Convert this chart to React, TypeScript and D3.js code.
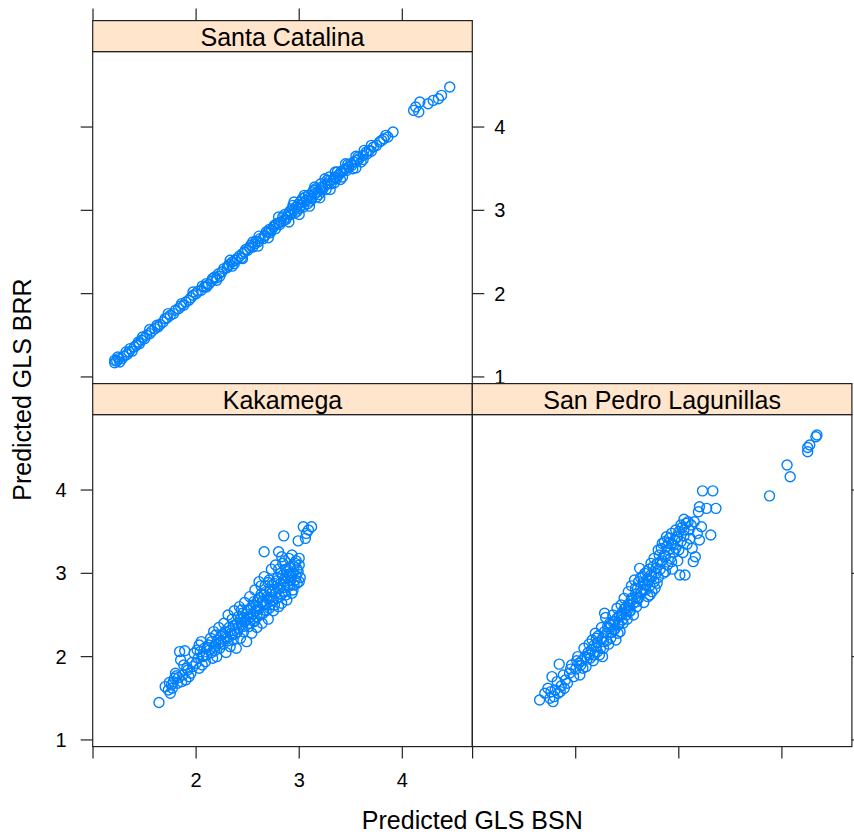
import React from 'react';
import * as d3 from 'd3';

// predicted GLS BSN (x) vs predicted GLS BRR (y)
const santaCatalina: [number, number][] = [
  [1.21, 1.17], [1.23, 1.19], [1.26, 1.18], [1.28, 1.22], [1.30, 1.25], [1.32, 1.30], [1.33, 1.27], [1.35, 1.30],
  [1.38, 1.31], [1.40, 1.36], [1.42, 1.38], [1.44, 1.42], [1.45, 1.40], [1.47, 1.44], [1.50, 1.46], [1.52, 1.50],
  [1.55, 1.52], [1.55, 1.57], [1.57, 1.55], [1.60, 1.58], [1.62, 1.62], [1.65, 1.63], [1.68, 1.66], [1.70, 1.70],
  [1.72, 1.71], [1.75, 1.74], [1.78, 1.76], [1.80, 1.80], [1.83, 1.82], [1.85, 1.85], [1.88, 1.86], [1.90, 1.90],
  [1.93, 1.92], [1.95, 1.95], [1.97, 1.98], [1.97, 2.02], [2.00, 2.00], [2.02, 2.03], [2.05, 2.04], [2.08, 2.08],
  [2.10, 2.12], [2.10, 2.08], [2.12, 2.11], [2.15, 2.15], [2.18, 2.20], [2.20, 2.19], [2.22, 2.24], [2.23, 2.21],
  [2.25, 2.26], [2.27, 2.30], [2.30, 2.31], [2.32, 2.35], [2.35, 2.38], [2.35, 2.33], [2.37, 2.36], [2.40, 2.42],
  [2.42, 2.45], [2.44, 2.43], [2.45, 2.48], [2.47, 2.50], [2.50, 2.52], [2.52, 2.55], [2.55, 2.56], [2.57, 2.60],
  [2.58, 2.63], [2.60, 2.62], [2.62, 2.66], [2.65, 2.66], [2.67, 2.70], [2.68, 2.74], [2.70, 2.74], [2.72, 2.73],
  [2.73, 2.76], [2.75, 2.80], [2.77, 2.78], [2.78, 2.84], [2.80, 2.85], [2.82, 2.86], [2.85, 2.88], [2.86, 2.95],
  [2.88, 2.92], [2.90, 2.96], [2.92, 2.95], [2.93, 3.02], [2.95, 3.00], [2.97, 3.04], [2.98, 2.99], [3.00, 3.02],
  [3.02, 3.06], [3.03, 3.14], [3.05, 3.10], [3.07, 3.12], [3.08, 3.08], [3.10, 3.15], [3.12, 3.14], [3.13, 3.22],
  [3.15, 3.20], [3.17, 3.16], [3.18, 3.22], [3.20, 3.24], [3.21, 3.32], [3.22, 3.28], [3.25, 3.30], [3.26, 3.25],
  [3.28, 3.32], [3.29, 3.40], [3.30, 3.36], [3.33, 3.37], [3.34, 3.33], [3.35, 3.40], [3.37, 3.46], [3.38, 3.42],
  [3.40, 3.45], [3.42, 3.40], [3.43, 3.48], [3.45, 3.50], [3.47, 3.55], [3.48, 3.52], [3.50, 3.56], [3.52, 3.50],
  [3.53, 3.58], [3.55, 3.65], [3.56, 3.60], [3.58, 3.62], [3.60, 3.58], [3.62, 3.66], [3.63, 3.72], [3.65, 3.70],
  [3.68, 3.72], [3.72, 3.76], [3.75, 3.78], [3.78, 3.82], [3.82, 3.86], [3.86, 3.88], [3.91, 3.94], [4.11, 4.20],
  [4.13, 4.24], [4.16, 4.18], [4.17, 4.30], [4.25, 4.28], [4.30, 4.32], [4.35, 4.34], [4.38, 4.38], [4.46, 4.48],
  [2.31, 2.33], [2.38, 2.40], [2.48, 2.53], [2.53, 2.58], [2.61, 2.69], [2.66, 2.69], [2.71, 2.77], [2.76, 2.82],
  [2.81, 2.83], [2.84, 2.92], [2.87, 2.89], [2.91, 2.99], [2.94, 3.06], [2.96, 2.97], [2.99, 3.07], [3.01, 3.10],
  [3.04, 3.04], [3.06, 3.16], [3.09, 3.18], [3.11, 3.11], [3.14, 3.24], [3.16, 3.26], [3.19, 3.19], [3.23, 3.26],
  [3.27, 3.36], [3.31, 3.32], [3.36, 3.38], [3.41, 3.47], [3.46, 3.48], [3.51, 3.54], [3.57, 3.64], [3.66, 3.68],
  [3.70, 3.78], [3.80, 3.84], [3.84, 3.90], [1.25, 1.22], [1.36, 1.34], [1.48, 1.48], [1.63, 1.60], [1.73, 1.76],
  [1.86, 1.88], [2.06, 2.09], [2.16, 2.18], [1.24, 1.24], [1.21, 1.20],
  [2.90, 2.86], [2.95, 3.10], [3.00, 2.95], [3.05, 3.18], [3.10, 3.05], [3.15, 3.28], [3.20, 3.15], [3.25, 3.38],
  [3.30, 3.25], [3.35, 3.46], [3.40, 3.37], [3.45, 3.56], [3.55, 3.51], [2.80, 2.92], [2.70, 2.67], [2.60, 2.57],
  [2.55, 2.62], [2.45, 2.42], [2.33, 2.40], [2.20, 2.16], [3.62, 3.61], [3.70, 3.71],
];

const kakamega: [number, number][] = [
  [1.64, 1.45], [1.70, 1.64], [1.75, 1.56], [1.73, 1.60], [1.78, 1.70], [1.76, 1.66], [1.80, 1.80], [1.79, 1.74],
  [1.82, 1.68], [1.84, 2.06], [1.89, 2.07], [1.85, 1.96], [1.87, 1.78], [1.90, 1.72], [1.92, 1.84], [1.95, 1.80],
  [1.98, 2.04], [2.03, 2.14], [1.88, 1.90], [1.93, 1.76], [1.97, 1.88], [2.00, 1.92], [1.83, 1.75], [1.86, 1.70],
  [2.02, 1.98], [2.04, 2.06], [2.06, 1.90], [2.08, 2.10], [2.05, 2.18], [2.10, 2.02], [2.09, 1.94], [2.12, 2.14],
  [2.03, 1.86], [2.14, 2.22], [2.15, 2.05], [2.17, 2.30], [2.18, 2.12], [2.20, 2.00], [2.21, 2.20], [2.22, 2.35],
  [2.23, 2.10], [2.24, 2.25], [2.16, 1.98], [2.19, 2.26], [2.26, 2.15], [2.27, 2.40], [2.28, 2.30], [2.29, 2.05],
  [2.30, 2.22], [2.31, 2.50], [2.32, 2.35], [2.33, 2.12], [2.34, 2.28], [2.35, 2.45], [2.36, 2.20], [2.37, 2.55],
  [2.38, 2.38], [2.39, 2.10], [2.40, 2.30], [2.41, 2.48], [2.42, 2.60], [2.43, 2.22], [2.44, 2.38], [2.45, 2.52],
  [2.46, 2.30], [2.47, 2.65], [2.48, 2.44], [2.49, 2.18], [2.50, 2.56], [2.51, 2.36], [2.52, 2.72], [2.53, 2.48],
  [2.54, 2.28], [2.55, 2.62], [2.56, 2.42], [2.57, 2.80], [2.58, 2.55], [2.59, 2.35], [2.60, 2.68], [2.61, 2.90],
  [2.62, 2.50], [2.63, 2.75], [2.64, 2.40], [2.65, 2.62], [2.66, 2.96], [2.67, 2.85], [2.68, 2.55], [2.69, 2.72],
  [2.70, 2.45], [2.66, 3.26], [2.71, 2.92], [2.72, 2.62], [2.73, 3.05], [2.74, 2.78], [2.75, 2.55], [2.76, 2.88],
  [2.77, 3.10], [2.78, 2.70], [2.79, 2.95], [2.80, 2.60], [2.81, 2.82], [2.82, 3.00], [2.83, 2.75], [2.84, 3.12],
  [2.85, 2.90], [2.80, 3.26], [2.83, 3.20], [2.85, 3.45], [2.86, 2.78], [2.87, 3.05], [2.88, 2.68], [2.89, 2.95],
  [2.90, 3.18], [2.91, 2.85], [2.92, 3.00], [2.93, 3.22], [2.94, 2.80], [2.95, 3.08], [2.96, 2.92], [2.97, 3.15],
  [2.98, 2.88], [2.99, 3.02], [3.00, 3.10], [3.01, 2.95], [2.99, 3.39], [3.04, 3.56], [3.12, 3.56], [3.07, 3.48],
  [3.06, 3.42], [3.09, 3.52],
  [2.07, 2.01], [2.13, 2.08], [2.19, 2.15], [2.24, 2.18], [2.26, 2.27], [2.31, 2.19], [2.33, 2.31], [2.36, 2.37],
  [2.38, 2.27], [2.41, 2.34], [2.43, 2.45], [2.45, 2.36], [2.47, 2.42], [2.49, 2.51], [2.51, 2.46], [2.53, 2.58],
  [2.55, 2.51], [2.56, 2.66], [2.58, 2.61], [2.59, 2.48], [2.61, 2.57], [2.62, 2.71], [2.64, 2.66], [2.65, 2.52],
  [2.67, 2.63], [2.68, 2.78], [2.70, 2.69], [2.71, 2.58], [2.73, 2.71], [2.74, 2.86], [2.75, 2.67], [2.77, 2.76],
  [2.78, 2.91], [2.79, 2.82], [2.81, 2.72], [2.82, 2.88], [2.84, 2.98], [2.85, 2.83], [2.86, 2.94], [2.87, 2.74],
  [2.88, 3.02], [2.89, 2.86], [2.91, 3.08], [2.92, 2.92], [2.94, 3.00], [2.95, 2.86], [2.96, 3.12], [2.97, 2.97],
  [2.98, 3.05], [3.00, 2.90], [3.00, 3.18], [2.93, 2.76], [2.90, 2.99], [2.83, 2.64], [2.76, 2.62], [2.72, 2.79],
  [2.66, 2.74], [2.60, 2.60], [2.57, 2.43], [2.52, 2.40], [2.46, 2.47], [2.40, 2.40], [2.35, 2.26], [2.29, 2.24],
  [2.22, 2.16], [2.18, 2.07], [2.11, 2.11], [2.06, 2.00], [1.96, 1.93], [1.91, 1.86], [1.81, 1.77], [1.77, 1.62],
  [1.74, 1.69], [2.01, 2.08], [2.15, 2.18], [2.44, 2.56], [2.63, 2.85], [2.70, 2.89], [2.80, 3.05], [2.86, 3.15],
];

const sanPedro: [number, number][] = [
  [1.65, 1.48], [1.78, 1.46], [1.73, 1.62], [1.84, 1.91], [1.77, 1.76], [1.96, 1.90], [1.70, 1.56], [1.75, 1.50],
  [1.80, 1.60], [1.82, 1.70], [1.86, 1.65], [1.88, 1.78], [1.79, 1.52], [1.90, 1.72], [1.85, 1.58], [1.92, 1.68],
  [1.94, 1.80], [1.98, 1.76], [2.00, 1.85], [2.02, 2.00], [2.04, 1.78], [2.06, 1.95], [2.08, 2.10], [2.10, 1.88],
  [2.12, 2.05], [2.14, 1.98], [2.16, 2.20], [2.18, 2.02], [2.20, 2.12], [2.05, 1.90], [2.09, 2.00], [2.13, 2.15],
  [2.17, 1.95], [2.19, 2.28], [2.21, 2.06], [2.22, 2.25], [2.24, 2.10], [2.25, 2.35], [2.27, 2.18], [2.28, 2.52],
  [2.29, 2.47], [2.30, 2.28], [2.32, 2.15], [2.33, 2.40], [2.34, 2.22], [2.36, 2.50], [2.37, 2.32], [2.38, 2.42],
  [2.39, 2.20], [2.40, 2.58], [2.26, 2.00], [2.31, 2.36], [2.41, 2.38], [2.42, 2.48], [2.43, 2.30], [2.44, 2.62],
  [2.45, 2.52], [2.46, 2.40], [2.47, 2.70], [2.48, 2.58], [2.50, 2.45], [2.51, 2.78], [2.52, 2.62], [2.53, 2.55],
  [2.54, 2.85], [2.55, 2.68], [2.56, 2.50], [2.57, 2.92], [2.58, 2.75], [2.59, 2.60], [2.60, 2.82], [2.61, 2.70],
  [2.62, 3.06], [2.63, 2.95], [2.64, 2.78], [2.65, 2.88], [2.66, 2.65], [2.67, 3.00], [2.68, 2.80], [2.69, 2.92],
  [2.70, 2.72], [2.71, 3.05], [2.72, 2.85], [2.73, 2.98], [2.74, 2.78], [2.75, 3.08], [2.76, 2.90], [2.77, 2.82],
  [2.78, 3.00], [2.79, 3.12], [2.80, 2.95], [2.81, 3.22], [2.82, 3.05], [2.83, 3.30], [2.84, 3.15], [2.85, 3.00],
  [2.86, 3.38], [2.87, 3.20], [2.88, 3.32], [2.89, 3.10], [2.90, 3.28], [2.91, 3.42], [2.92, 3.18], [2.93, 3.35],
  [2.94, 3.05], [2.95, 3.25], [2.96, 3.40], [2.97, 3.30], [2.98, 3.44], [2.99, 3.15], [3.01, 2.98], [3.06, 2.98],
  [3.00, 3.50], [3.02, 3.38], [3.03, 3.55], [3.04, 3.25], [3.05, 3.45], [3.07, 3.60], [3.08, 3.35], [3.10, 3.52],
  [3.11, 3.42], [3.12, 3.58], [3.14, 3.14], [3.16, 3.20], [3.13, 3.30], [3.18, 3.48], [3.20, 3.40], [3.31, 3.46],
  [3.20, 3.80], [3.27, 3.78], [3.36, 3.78], [3.23, 3.99], [3.33, 3.99], [3.19, 3.74], [3.88, 3.93], [4.05, 4.30],
  [4.08, 4.16], [4.25, 4.46], [4.27, 4.54], [4.25, 4.51], [4.34, 4.66], [4.33, 4.64],
  [2.03, 1.92], [2.07, 1.86], [2.11, 1.97], [2.15, 2.08], [2.18, 2.14], [2.21, 2.17], [2.23, 2.02], [2.26, 2.22],
  [2.28, 2.30], [2.30, 2.19], [2.32, 2.34], [2.35, 2.29], [2.36, 2.42], [2.38, 2.33], [2.40, 2.46], [2.42, 2.39],
  [2.44, 2.51], [2.45, 2.44], [2.47, 2.57], [2.49, 2.50], [2.51, 2.63], [2.52, 2.54], [2.54, 2.70], [2.56, 2.64],
  [2.58, 2.82], [2.60, 2.70], [2.61, 2.90], [2.63, 2.77], [2.65, 2.96], [2.67, 2.86], [2.69, 3.02], [2.71, 2.92],
  [2.73, 3.12], [2.74, 2.96], [2.76, 3.18], [2.78, 3.06], [2.80, 3.28], [2.82, 3.14], [2.84, 3.36], [2.86, 3.22],
  [2.88, 3.44], [2.90, 3.36], [2.93, 3.48], [2.95, 3.34], [2.97, 3.52], [2.99, 3.44], [3.02, 3.58], [3.05, 3.52],
  [3.09, 3.62], [3.00, 3.28], [2.93, 3.14], [2.87, 3.02], [2.79, 2.88], [2.72, 2.74], [2.66, 2.80], [2.59, 2.66],
  [2.50, 2.55], [2.41, 2.28], [2.34, 2.38], [2.27, 2.10], [2.20, 2.22], [2.13, 2.02], [2.01, 1.95], [1.95, 1.85],
  [1.89, 1.62], [1.83, 1.56], [1.76, 1.58], [3.15, 3.62], [3.22, 3.56], [3.05, 3.65],
];

const siteNames = ['Santa Catalina', 'Kakamega', 'San Pedro Lagunillas'];
const tickValues = [1, 2, 3, 4];
const xTickLabels = ['', '2', '3', '4'];
const yTickLabels = ['1', '2', '3', '4'];
const xTitle = 'Predicted GLS BSN';
const yTitle = 'Predicted GLS BRR';

const W = 854;
const H = 836;
const colLeft = [92.7, 472.3];
const panelW = 379.6;
const rowTop = [20.6, 383.6];
const stripH = 31;
const panelH = 332;
const font = '"Liberation Sans", Arial, Helvetica, sans-serif';
const pointCol = '#0080ff';
const stripCol = '#ffe5cc';
const tck = 12;

const xUnit = 103.1;
const yUnit = 83.3;
const xDomain: [number, number] = [0.997, 0.997 + panelW / xUnit];
const yDomain: [number, number] = [0.92, 0.92 + panelH / yUnit];

type PanelProps = {
  name: string;
  data: [number, number][];
  col: number;
  row: number;
  top?: boolean;
  left?: 'labels' | 'ticks' | null;
  right?: 'labels' | 'ticks' | null;
  bottom?: 'labels' | 'ticks' | null;
};

const Panel = ({ name, data, col, row, top, left, right, bottom }: PanelProps) => {
  const x0 = colLeft[col];
  const sTop = rowTop[row];
  const pTop = sTop + stripH;
  const x = d3.scaleLinear().domain(xDomain).range([x0, x0 + panelW]);
  const y = d3.scaleLinear().domain(yDomain).range([pTop + panelH, pTop]);
  const bottomY = pTop + panelH;

  return (
    <g>
      {/* points */}
      <g>
        {data.map((d, i) => (
          <circle key={i} cx={x(d[0])} cy={y(d[1])} r={5} fill="none" stroke={pointCol} strokeWidth={1.4} />
        ))}
      </g>
      {/* strip */}
      <rect x={x0} y={sTop} width={panelW} height={stripH} fill={stripCol} stroke="#222" strokeWidth={1.2} />
      <text x={x0 + panelW / 2} y={sTop + 25} textAnchor="middle" fontSize={25} fontFamily={font} fill="#000">
        {name}
      </text>
      {/* panel border */}
      <rect x={x0} y={pTop} width={panelW} height={panelH} fill="none" stroke="#222" strokeWidth={1.2} />
      {top &&
        tickValues.map((t) => (
          <line key={'t' + t} x1={x(t)} x2={x(t)} y1={sTop} y2={sTop - tck} stroke="#222" strokeWidth={1.2} />
        ))}
      {bottom &&
        tickValues.map((t, i) => (
          <g key={'b' + t}>
            <line x1={x(t)} x2={x(t)} y1={bottomY} y2={bottomY + tck} stroke="#222" strokeWidth={1.2} />
            {bottom === 'labels' && (
              <text x={x(t)} y={bottomY + 40} textAnchor="middle" fontSize={20} fontFamily={font}>
                {xTickLabels[i]}
              </text>
            )}
          </g>
        ))}
      {left &&
        tickValues.map((t, i) => (
          <g key={'l' + t}>
            <line x1={x0} x2={x0 - tck} y1={y(t)} y2={y(t)} stroke="#222" strokeWidth={1.2} />
            {left === 'labels' && (
              <text x={x0 - 26} y={y(t) + 7} textAnchor="end" fontSize={20} fontFamily={font}>
                {yTickLabels[i]}
              </text>
            )}
          </g>
        ))}
      {right &&
        tickValues.map((t, i) => (
          <g key={'r' + t}>
            <line x1={x0 + panelW} x2={x0 + panelW + tck} y1={y(t)} y2={y(t)} stroke="#222" strokeWidth={1.2} />
            {right === 'labels' && (
              <text x={x0 + panelW + 22} y={y(t) + 7} textAnchor="start" fontSize={20} fontFamily={font}>
                {yTickLabels[i]}
              </text>
            )}
          </g>
        ))}
    </g>
  );
};

const App = () => {
  const midX = (colLeft[0] + colLeft[1] + panelW) / 2;
  const midY = (rowTop[0] + rowTop[1] + stripH + panelH) / 2 + 6;
  return (
    <svg width={W} height={H} style={{ position: 'absolute', left: 0, top: 0, background: '#fff' }}>
      <Panel name={siteNames[0]} data={santaCatalina} col={0} row={0} top left="ticks" right="labels" />
      <Panel name={siteNames[1]} data={kakamega} col={0} row={1} left="labels" bottom="labels" />
      <Panel name={siteNames[2]} data={sanPedro} col={1} row={1} right="ticks" bottom="ticks" />
      <text x={midX} y={829} textAnchor="middle" fontSize={25} fontFamily={font}>
        {xTitle}
      </text>
      <text
        transform={`translate(31,${midY}) rotate(-90)`}
        textAnchor="middle"
        fontSize={25}
        fontFamily={font}
      >
        {yTitle}
      </text>
    </svg>
  );
};

export default App;
